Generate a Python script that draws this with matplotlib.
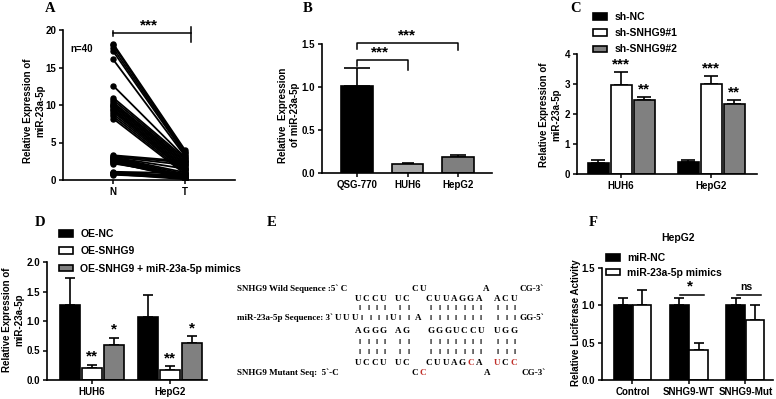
import matplotlib
matplotlib.use('Agg')
import matplotlib.pyplot as plt
import numpy as np

plt.rcParams['font.family'] = ['Liberation Sans', 'DejaVu Sans']
plt.rcParams['font.weight'] = 'bold'

# ---- data ----
# A: paired samples, normal (N) vs tumour (T)
a_normal = [18.2, 18.0, 17.6, 17.2, 16.1, 12.6, 11.0, 10.7, 10.4, 10.2,
            10.0, 9.9, 9.7, 9.5, 9.3, 9.1, 8.8, 8.5, 8.2, 3.3,
            3.2, 3.1, 3.0, 2.9, 2.8, 2.7, 2.6, 2.5, 2.4, 2.3,
            1.1, 1.0, 1.0, 0.9, 0.9, 0.8, 0.8, 0.7, 2.2, 3.0]
a_tumor = [4.0, 3.8, 3.6, 3.4, 3.2, 3.0, 2.9, 2.7, 2.5, 2.4,
           2.2, 2.0, 1.8, 1.6, 1.5, 1.3, 1.2, 1.0, 0.8, 2.5,
           2.3, 2.0, 1.0, 0.8, 0.6, 0.5, 0.4, 0.3, 0.2, 0.4,
           0.9, 0.6, 0.4, 0.3, 0.2, 0.1, 0.5, 0.3, 0.7, 1.5]

# B: cell lines
b_cells = ['QSG-770', 'HUH6', 'HepG2']
b_mean = [1.01, 0.11, 0.19]
b_sd = [0.21, 0.01, 0.02]

# C: knockdown
c_groups = ['HUH6', 'HepG2']
c_labels = ['sh-NC', 'sh-SNHG9#1', 'sh-SNHG9#2']
c_nc = [0.37, 0.40]
c_nc_sd = [0.11, 0.08]
c_sh1 = [2.98, 3.01]
c_sh1_sd = [0.42, 0.26]
c_sh2 = [2.47, 2.33]
c_sh2_sd = [0.10, 0.14]
c_stars = [['', '***', '**'], ['', '***', '**']]

# D: overexpression + mimics
d_groups = ['HUH6', 'HepG2']
d_labels = ['OE-NC', 'OE-SNHG9', 'OE-SNHG9 + miR-23a-5p mimics']
d_nc = [1.27, 1.07]
d_nc_sd = [0.46, 0.37]
d_oe = [0.21, 0.17]
d_oe_sd = [0.05, 0.06]
d_mim = [0.60, 0.63]
d_mim_sd = [0.11, 0.11]
d_stars = [['', '**', '*'], ['', '**', '*']]

# F: luciferase
f_groups = ['Control', 'SNHG9-WT', 'SNHG9-Mut']
f_labels = ['miR-NC', 'miR-23a-5p mimics']
f_nc = [1.0, 1.0, 1.0]
f_nc_sd = [0.1, 0.1, 0.1]
f_mim = [1.0, 0.4, 0.8]
f_mim_sd = [0.2, 0.1, 0.2]
f_sig = ['', '*', 'ns']

W, H = 776, 399
fig = plt.figure(figsize=(7.76, 3.99), dpi=100)


def px_axes(x0, ytop, x1, ybot):
    return fig.add_axes([x0 / W, 1 - ybot / H, (x1 - x0) / W, (ybot - ytop) / H])


def style(ax):
    for s in ['top', 'right']:
        ax.spines[s].set_visible(False)
    for s in ['left', 'bottom']:
        ax.spines[s].set_linewidth(1.2)
    ax.tick_params(direction='out', length=3, width=1.1, labelsize=7, pad=2)
    for lab in ax.get_xticklabels() + ax.get_yticklabels():
        lab.set_fontweight('bold')


def ftext(x, y, s, **kw):
    return fig.text(x / W, 1 - y / H, s, **kw)


def panel_label(x, y, s):
    ftext(x, y, s, fontsize=10.5, fontweight='bold', family='Liberation Serif',
          ha='center', va='center')


def up_err(ax, x, y, e, cap):
    ax.errorbar(x, y, yerr=[np.zeros(len(y)), e], fmt='none', ecolor='black',
                elinewidth=1.2, capsize=cap, capthick=1.2, zorder=1)


STAR = 11

# ---- A ----
axA = px_axes(63, 30, 235, 180)
for n, t in zip(a_normal, a_tumor):
    axA.plot([0, 1], [n, t], color='black', lw=1.3, marker='o', ms=3.6)
axA.set_xlim(-0.694, 1.694)
axA.set_ylim(0, 20)
axA.set_yticks([0, 5, 10, 15, 20])
axA.set_xticks([0, 1])
axA.set_xticklabels(['N', 'T'], fontsize=7.5)
style(axA)
axA.plot([0, 1.08], [19.56, 19.56], color='black', lw=1.1, clip_on=False)
axA.plot([0, 0], [19.2, 19.9], color='black', lw=1.1, clip_on=False)
axA.plot([1.08, 1.08], [18.4, 20.4], color='black', lw=1.1, clip_on=False)
axA.text(0.5, 20.6, '***', ha='center', va='center', fontsize=STAR, fontweight='bold')
ftext(70, 49, 'n=40', fontsize=7, fontweight='bold', va='center')
ftext(34, 111, 'Relative Expression of\nmiR-23a-5p', rotation=90, ha='center',
      va='center', fontsize=7, fontweight='bold', linespacing=1.3)
panel_label(50, 8, 'A')

# ---- B ----
axB = px_axes(322, 44, 492, 173)
xb = np.arange(len(b_cells))
axB.bar(xb, b_mean, width=0.63, color=['black', '#a6a6a6', '#7f7f7f'],
        edgecolor='black', linewidth=1.2, zorder=2)
for i in range(len(xb)):
    up_err(axB, [xb[i]], [b_mean[i]], [b_sd[i]], [9.5, 4, 5.8][i])
axB.set_xlim(-0.69, 2.67)
axB.set_ylim(0, 1.5)
axB.set_yticks([0, 0.5, 1.0, 1.5])
axB.set_yticklabels(['0.0', '0.5', '1.0', '1.5'])
axB.set_xticks(xb)
axB.set_xticklabels(b_cells, fontsize=7.5)
style(axB)
axB.plot([0, 0, 1, 1], [1.25, 1.31, 1.31, 1.20], color='black', lw=1.1, clip_on=False)
axB.plot([0, 0, 2, 2], [1.44, 1.51, 1.51, 1.43], color='black', lw=1.1, clip_on=False)
axB.text(0.46, 1.40, '***', ha='center', va='center', fontsize=STAR, fontweight='bold')
axB.text(0.99, 1.60, '***', ha='center', va='center', fontsize=STAR, fontweight='bold')
ftext(289, 115, 'Relative  Expression\nof miR-23a-5p', rotation=90, ha='center',
      va='center', fontsize=7, fontweight='bold', linespacing=1.25)
panel_label(308, 8, 'B')

# ---- C ----
axC = px_axes(577, 54, 757, 174)
xc = np.arange(len(c_groups))
pitch, wid = 0.255, 0.233
c_series = [(c_nc, c_nc_sd, 'black'), (c_sh1, c_sh1_sd, 'white'), (c_sh2, c_sh2_sd, '#808080')]
for k, (vals, sd, col) in enumerate(c_series):
    pos = xc + (k - 1) * pitch
    axC.bar(pos, vals, width=wid, color=col, edgecolor='black', linewidth=1.2,
            label=c_labels[k], zorder=2)
    up_err(axC, pos, vals, sd, 5)
    for g in range(len(xc)):
        s = c_stars[g][k]
        if s:
            axC.text(pos[g], vals[g] + sd[g] + 0.25, s, ha='center', va='center',
                     fontsize=STAR, fontweight='bold')
axC.set_xlim(-0.49, 1.51)
axC.set_ylim(0, 4)
axC.set_yticks([0, 1, 2, 3, 4])
axC.set_xticks(xc)
axC.set_xticklabels(c_groups, fontsize=7.5)
style(axC)
axC.legend(loc='upper left', bbox_to_anchor=(593 / W, 1 - 12 / H), bbox_transform=fig.transFigure,
           frameon=False, fontsize=7.5, handlelength=1.35, handleheight=0.6,
           handletextpad=0.7, labelspacing=0.6, borderaxespad=0, borderpad=0)
ftext(550, 115, 'Relative Expression of\nmiR-23a-5p', rotation=90, ha='center',
      va='center', fontsize=7, fontweight='bold', linespacing=1.3)
panel_label(576, 8, 'C')

# ---- D ----
axD = px_axes(47, 262, 207, 380)
xd = np.arange(len(d_groups))
pitch, wid = 0.28, 0.26
d_series = [(d_nc, d_nc_sd, 'black'), (d_oe, d_oe_sd, 'white'), (d_mim, d_mim_sd, '#808080')]
for k, (vals, sd, col) in enumerate(d_series):
    pos = xd + (k - 1) * pitch
    axD.bar(pos, vals, width=wid, color=col, edgecolor='black', linewidth=1.2,
            label=d_labels[k], zorder=2)
    up_err(axD, pos, vals, sd, 3.8)
    for g in range(len(xd)):
        s = d_stars[g][k]
        if s:
            axD.text(pos[g], vals[g] + sd[g] + 0.14, s, ha='center', va='center',
                     fontsize=STAR, fontweight='bold')
axD.set_xlim(-0.577, 1.474)
axD.set_ylim(0, 2)
axD.set_yticks([0, 0.5, 1.0, 1.5, 2.0])
axD.set_yticklabels(['0.0', '0.5', '1.0', '1.5', '2.0'])
axD.set_xticks(xd)
axD.set_xticklabels(d_groups, fontsize=7.5)
style(axD)
axD.legend(loc='upper left', bbox_to_anchor=(59 / W, 1 - 229 / H), bbox_transform=fig.transFigure,
           frameon=False, fontsize=7.5, handlelength=1.35, handleheight=0.6,
           handletextpad=0.7, labelspacing=0.7, borderaxespad=0, borderpad=0)
ftext(13, 320, 'Relative Expression of\nmiR-23a-5p', rotation=90, ha='center',
      va='center', fontsize=7, fontweight='bold', linespacing=1.3)
panel_label(40, 223, 'D')

# ---- E : sequence alignment ----
panel_label(272, 223, 'E')
RED = '#c0302b'
SERIF = 'Liberation Serif'
STEP = 8.3


def seq(x0, y, s, red=()):
    for i, ch in enumerate(s):
        if ch == ' ':
            continue
        ftext(x0 + i * STEP, y, ch, fontsize=6.5, fontweight='bold', family=SERIF,
              ha='center', va='center', color=RED if i in red else 'black')


def bars(x0, y, n):
    for i in range(n):
        ftext(x0 + i * STEP, y, 'I', fontsize=5.5, fontweight='bold',
              ha='center', va='center')


def bar_row(y):
    bars(360, y, 4)
    bars(400, y, 2)
    bars(431, y, 7)
    bars(498, y, 3)


ftext(237, 289, 'SNHG9 Wild Sequence :5` C', fontsize=6.5, fontweight='bold',
      family=SERIF, va='center')
seq(415, 289, 'CU')
seq(486, 289, 'A')
ftext(519, 289, 'CG-3`', fontsize=6.5, fontweight='bold', family=SERIF, va='center')
seq(358, 299, 'UCCU')
seq(398, 299, 'UC')
seq(429, 299, 'CUUAGGA')
seq(497, 299, 'ACU')
bar_row(309)
ftext(237, 318, 'miR-23a-5p Sequence: 3`', fontsize=6.5, fontweight='bold',
      family=SERIF, va='center')
seq(338, 318, 'UUU')
bars(362, 318, 4)
seq(393, 318, 'U')
bars(400, 318, 2)
seq(418, 318, 'A')
bars(431, 318, 7)
bars(498, 318, 3)
ftext(519, 318, 'GG-5`', fontsize=6.5, fontweight='bold', family=SERIF, va='center')
seq(358, 331, 'AGGG')
seq(398, 331, 'AG')
seq(431, 331, 'GGGUCCU')
seq(497, 331, 'UGG')
bar_row(342)
bar_row(352)
seq(358, 363, 'UCCU')
seq(398, 363, 'UC')
seq(429, 363, 'CUUAGCA', red=(5,))
seq(497, 363, 'UCC', red=(0, 2))
ftext(237, 373, 'SNHG9 Mutant Seq:  5`-C', fontsize=6.5, fontweight='bold',
      family=SERIF, va='center')
seq(415, 373, 'CC', red=(1,))
seq(487, 373, 'A')
ftext(521, 373, 'CG-3`', fontsize=6.5, fontweight='bold', family=SERIF, va='center')

# ---- F ----
axF = px_axes(602, 268, 773, 380)
xf = np.arange(len(f_groups))
wid = 0.33
f_series = [(f_nc, f_nc_sd, 'black'), (f_mim, f_mim_sd, 'white')]
for k, (vals, sd, col) in enumerate(f_series):
    pos = xf + (k - 0.5) * 0.34
    axF.bar(pos, vals, width=wid, color=col, edgecolor='black', linewidth=1.2,
            label=f_labels[k], zorder=2)
    up_err(axF, pos, vals, sd, 3.3)
axF.set_xlim(-0.54, 2.49)
axF.set_ylim(0, 1.5)
axF.set_yticks([0, 0.5, 1.0, 1.5])
axF.set_yticklabels(['0.0', '0.5', '1.0', '1.5'])
axF.set_xticks(xf)
axF.set_xticklabels(f_groups, fontsize=7.5)
style(axF)
for g, s in enumerate(f_sig):
    if s:
        axF.plot([g - 0.15, g + 0.27], [1.14, 1.14], color='black', lw=1.1)
        axF.text(g + 0.02, 1.25, s, ha='center', va='center',
                 fontsize=STAR if s == '*' else 7.5, fontweight='bold')
axF.legend(loc='upper left', bbox_to_anchor=(606 / W, 1 - 253 / H), bbox_transform=fig.transFigure,
           frameon=False, fontsize=7.5, handlelength=1.35, handleheight=0.6,
           handletextpad=0.7, labelspacing=0.45, borderaxespad=0, borderpad=0)
ftext(678, 238, 'HepG2', fontsize=7.5, fontweight='bold', ha='center', va='center')
ftext(576, 323, 'Relative Luciferase Activity', rotation=90, ha='center',
      va='center', fontsize=7, fontweight='bold')
panel_label(593, 222, 'F')

fig.savefig('out.png', dpi=100)
